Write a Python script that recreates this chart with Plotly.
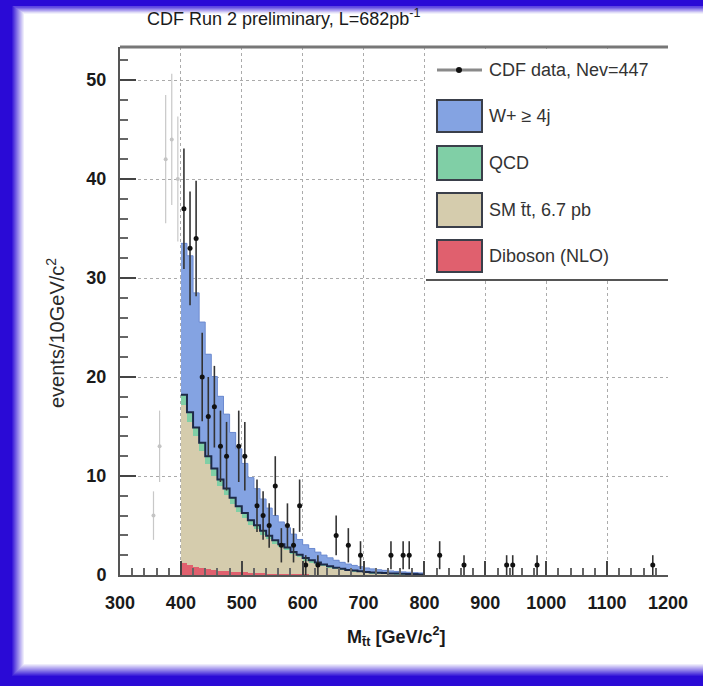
import numpy as np
import plotly.graph_objects as go

# ---------------- data ----------------
# Monte Carlo stack, 10 GeV/c^2 bins starting at 400 GeV/c^2
bin_low = list(range(400, 800, 10))

diboson = [1.2, 1.0, 0.8, 0.7, 0.6, 0.5, 0.45, 0.4, 0.35, 0.3,
           0.27, 0.24, 0.2, 0.18, 0.15, 0.13, 0.11, 0.1, 0.08, 0.07,
           0.06, 0.05, 0.05, 0.04, 0.04, 0.03, 0.03, 0.02, 0.02, 0.01,
           0.0, 0.0, 0.0, 0.0, 0.0, 0.0, 0.0, 0.0, 0.0, 0.0]
ttbar = [16.0, 14.5, 13.2, 11.8, 10.6, 9.5, 8.5, 7.7, 6.85, 6.1,
         5.5, 4.85, 4.4, 3.9, 3.45, 3.05, 2.7, 2.4, 2.0, 1.75,
         1.45, 1.25, 1.05, 0.88, 0.73, 0.6, 0.5, 0.4, 0.35, 0.3,
         0.25, 0.2, 0.17, 0.14, 0.12, 0.1, 0.08, 0.07, 0.06, 0.05]
qcd = [1.0, 0.95, 0.9, 0.85, 0.8, 0.75, 0.7, 0.65, 0.6, 0.55,
       0.5, 0.45, 0.42, 0.4, 0.36, 0.33, 0.3, 0.28, 0.25, 0.22,
       0.2, 0.18, 0.16, 0.14, 0.12, 0.11, 0.1, 0.09, 0.08, 0.07,
       0.06, 0.06, 0.05, 0.05, 0.04, 0.04, 0.04, 0.03, 0.03, 0.03]
wjets = [15.3, 15.8, 13.6, 12.2, 10.3, 9.3, 8.4, 7.5, 6.6, 5.8,
         5.0, 4.3, 3.7, 3.2, 2.8, 2.5, 2.25, 2.0, 1.8, 1.55,
         1.35, 1.2, 1.05, 0.95, 0.85, 0.75, 0.65, 0.6, 0.52, 0.46,
         0.4, 0.36, 0.32, 0.28, 0.25, 0.22, 0.2, 0.18, 0.15, 0.13]

# CDF data below the 400 GeV/c^2 cut (drawn in grey)
low_mass = [355, 365, 375, 385, 395]
low_counts = [6, 13, 42, 44, 40]

# CDF data above the cut
data_mass = [405, 415, 425, 435, 445, 455, 465, 475, 495, 505,
             525, 535, 545, 555, 565, 575, 585, 595, 605, 625,
             655, 675, 695, 745, 765, 775, 825, 865, 935, 945,
             985, 1175]
data_counts = [37, 33, 34, 20, 16, 17, 13, 12, 13, 12,
               7, 6, 5, 9, 3, 5, 3, 7, 1, 1,
               4, 3, 2, 2, 2, 2, 2, 1, 1, 1,
               1, 1]

x_ticks = [300, 400, 500, 600, 700, 800, 900, 1000, 1100, 1200]
y_ticks = [0, 10, 20, 30, 40, 50]

legend_labels = ["CDF data, Nev=447", "W+ \u2265 4j", "QCD",
                 "SM t\u0304t, 6.7 pb", "Diboson (NLO)"]

# ---------------- styling ----------------
C_W = "#84a3e2"
C_QCD = "#80cfa6"
C_TT = "#d5ccad"
C_DB = "#e0606e"
FRAME_BLUE = (42, 10, 214)
FONT = "Liberation Sans"

W, H = 703, 686
ML, MR, MT, MB = 120, 35, 47, 111
PW, PH = W - ML - MR, H - MT - MB


def px(x):
    return (x - ML) / PW


def py(y):
    return (MT + PH - y) / PH


centers = [b + 5 for b in bin_low]
fig = go.Figure()

for vals, col in [(diboson, C_DB), (ttbar, C_TT), (qcd, C_QCD), (wjets, C_W)]:
    fig.add_trace(go.Bar(x=centers, y=vals, width=10, marker_color=col,
                         marker_line_width=0, showlegend=False,
                         hoverinfo="skip"))

# step outlines of the stack
edges = bin_low + [bin_low[-1] + 10]
lower = np.array(diboson) + np.array(ttbar) + np.array(qcd)
total = lower + np.array(wjets)
fig.add_trace(go.Scatter(x=edges, y=list(lower) + [lower[-1]], mode="lines",
                         line=dict(color="#1d2a48", width=2, shape="hv"),
                         showlegend=False, hoverinfo="skip"))
fig.add_trace(go.Scatter(x=edges, y=list(total) + [total[-1]], mode="lines",
                         line=dict(color="#6d8bd0", width=1, shape="hv"),
                         showlegend=False, hoverinfo="skip"))

# data points
fig.add_trace(go.Scatter(
    x=low_mass, y=low_counts, mode="markers",
    marker=dict(color="#c4c4c4", size=4),
    error_y=dict(type="data", array=np.sqrt(low_counts), color="#c8c8c8",
                 thickness=1.2, width=0),
    showlegend=False))
fig.add_trace(go.Scatter(
    x=data_mass, y=data_counts, mode="markers",
    marker=dict(color="#111111", size=5),
    error_y=dict(type="data", array=np.sqrt(data_counts), color="#333333",
                 thickness=1.6, width=0),
    showlegend=False))

shapes = []
annotations = []


def blend(t):
    r = int(FRAME_BLUE[0] + (255 - FRAME_BLUE[0]) * t)
    g = int(FRAME_BLUE[1] + (255 - FRAME_BLUE[1]) * t)
    b = int(FRAME_BLUE[2] + (255 - FRAME_BLUE[2]) * t)
    return f"rgb({r},{g},{b})"


def rect(x0, y0, x1, y1, fill, line=None, lw=0, layer="above"):
    shapes.append(dict(type="rect", xref="paper", yref="paper",
                       x0=px(x0), x1=px(x1), y0=py(y1), y1=py(y0),
                       fillcolor=fill, layer=layer,
                       line=dict(color=line or fill, width=lw)))


def hline(x0, x1, y, col, lw):
    shapes.append(dict(type="line", xref="paper", yref="paper",
                       x0=px(x0), x1=px(x1), y0=py(y), y1=py(y),
                       line=dict(color=col, width=lw)))


def vline(x, y0, y1, col, lw):
    shapes.append(dict(type="line", xref="paper", yref="paper",
                       x0=px(x), x1=px(x), y0=py(y0), y1=py(y1),
                       line=dict(color=col, width=lw)))


# blue page frame with soft inner edge (left, top and bottom)
hline(0, W, 3, blend(0), 7)
hline(0, W, 681, blend(0), 10)
vline(6, 0, H, blend(0), 12)
steps = 12
for i in range(steps):
    t = (i + 1) / (steps + 1)
    vline(12.5 + i, 6 + i * 0.6, 676 - i, blend(t), 1)
    hline(12 + i, W, 6.8 + i * 0.6, blend(t), 0.8)
    hline(12 + i, W, 675.5 - i, blend(t), 1)

# top frame line
shapes.append(dict(type="line", xref="paper", yref="paper",
                   x0=0, x1=1, y0=1, y1=1,
                   line=dict(color="#777777", width=3)))

# legend panel
rect(426, 49, 668, 279, "white")
hline(426, 668, 280, "#555555", 2)
hline(437, 482, 70, "#8a8a8a", 3)
shapes.append(dict(type="circle", xref="paper", yref="paper",
                   x0=px(456), x1=px(462), y0=py(73), y1=py(67),
                   fillcolor="#111111", line=dict(color="#111111", width=0)))
box_rows = [(100, 132, C_W), (146, 180, C_QCD), (193, 227, C_TT),
            (240, 272, C_DB)]
for (y0, y1, col) in box_rows:
    rect(437, y0, 482, y1, col, line="#3a3f4a", lw=2)

label_y = [70, 116, 163, 210, 256]
for lab, yy in zip(legend_labels, label_y):
    annotations.append(dict(text=lab, xref="paper", yref="paper",
                            x=px(487), y=py(yy), xanchor="left",
                            yanchor="middle", showarrow=False,
                            font=dict(family=FONT, size=18,
                                      color="#333333")))

# titles
annotations.append(dict(text="CDF Run 2 preliminary, L=682pb<sup>-1</sup>",
                        xref="paper", yref="paper", x=px(284), y=py(18),
                        xanchor="center", yanchor="middle", showarrow=False,
                        font=dict(family=FONT, size=18, color="#1a1a1a")))
annotations.append(dict(text="M<sub>t\u0304t</sub> [GeV/c<sup>2</sup>]",
                        xref="paper", yref="paper", x=px(396), y=py(636),
                        xanchor="center", yanchor="middle", showarrow=False,
                        font=dict(family=FONT, size=18,
                                  color="#1a1a1a", weight="bold")))
annotations.append(dict(text="events/10GeV/c<sup>2</sup>",
                        xref="paper", yref="paper", x=px(55), y=py(333),
                        xanchor="center", yanchor="middle", showarrow=False,
                        textangle=-90,
                        font=dict(family=FONT, size=20,
                                  color="#2a2a2a")))

fig.update_layout(
    width=W, height=H,
    margin=dict(l=ML, r=MR, t=MT, b=MB),
    paper_bgcolor="white", plot_bgcolor="white",
    barmode="stack", bargap=0,
    shapes=shapes, annotations=annotations,
    showlegend=False,
)
fig.update_xaxes(
    range=[300, 1200], tickvals=x_ticks,
    ticks="inside", ticklen=14, tickwidth=1.5, tickcolor="#444444",
    minor=dict(ticks="inside", dtick=20, ticklen=7, tickcolor="#666666",
               showgrid=False),
    showline=True, linecolor="#555555", linewidth=2,
    showgrid=True, gridcolor="#ababab", griddash="dot", gridwidth=1,
    zeroline=False, ticklabelstandoff=10,
    tickfont=dict(family=FONT, size=18, color="#1a1a1a", weight="bold"),
)
fig.update_yaxes(
    range=[0, PH / 9.9], tickvals=y_ticks,
    ticks="inside", ticklen=16, tickwidth=1.5, tickcolor="#444444",
    minor=dict(ticks="inside", dtick=2, ticklen=8, tickcolor="#666666",
               showgrid=False),
    showline=True, linecolor="#555555", linewidth=2,
    showgrid=True, gridcolor="#ababab", griddash="dot", gridwidth=1,
    zeroline=False, ticklabelstandoff=8,
    tickfont=dict(family=FONT, size=18, color="#1a1a1a", weight="bold"),
)

fig.write_html("out.html")
